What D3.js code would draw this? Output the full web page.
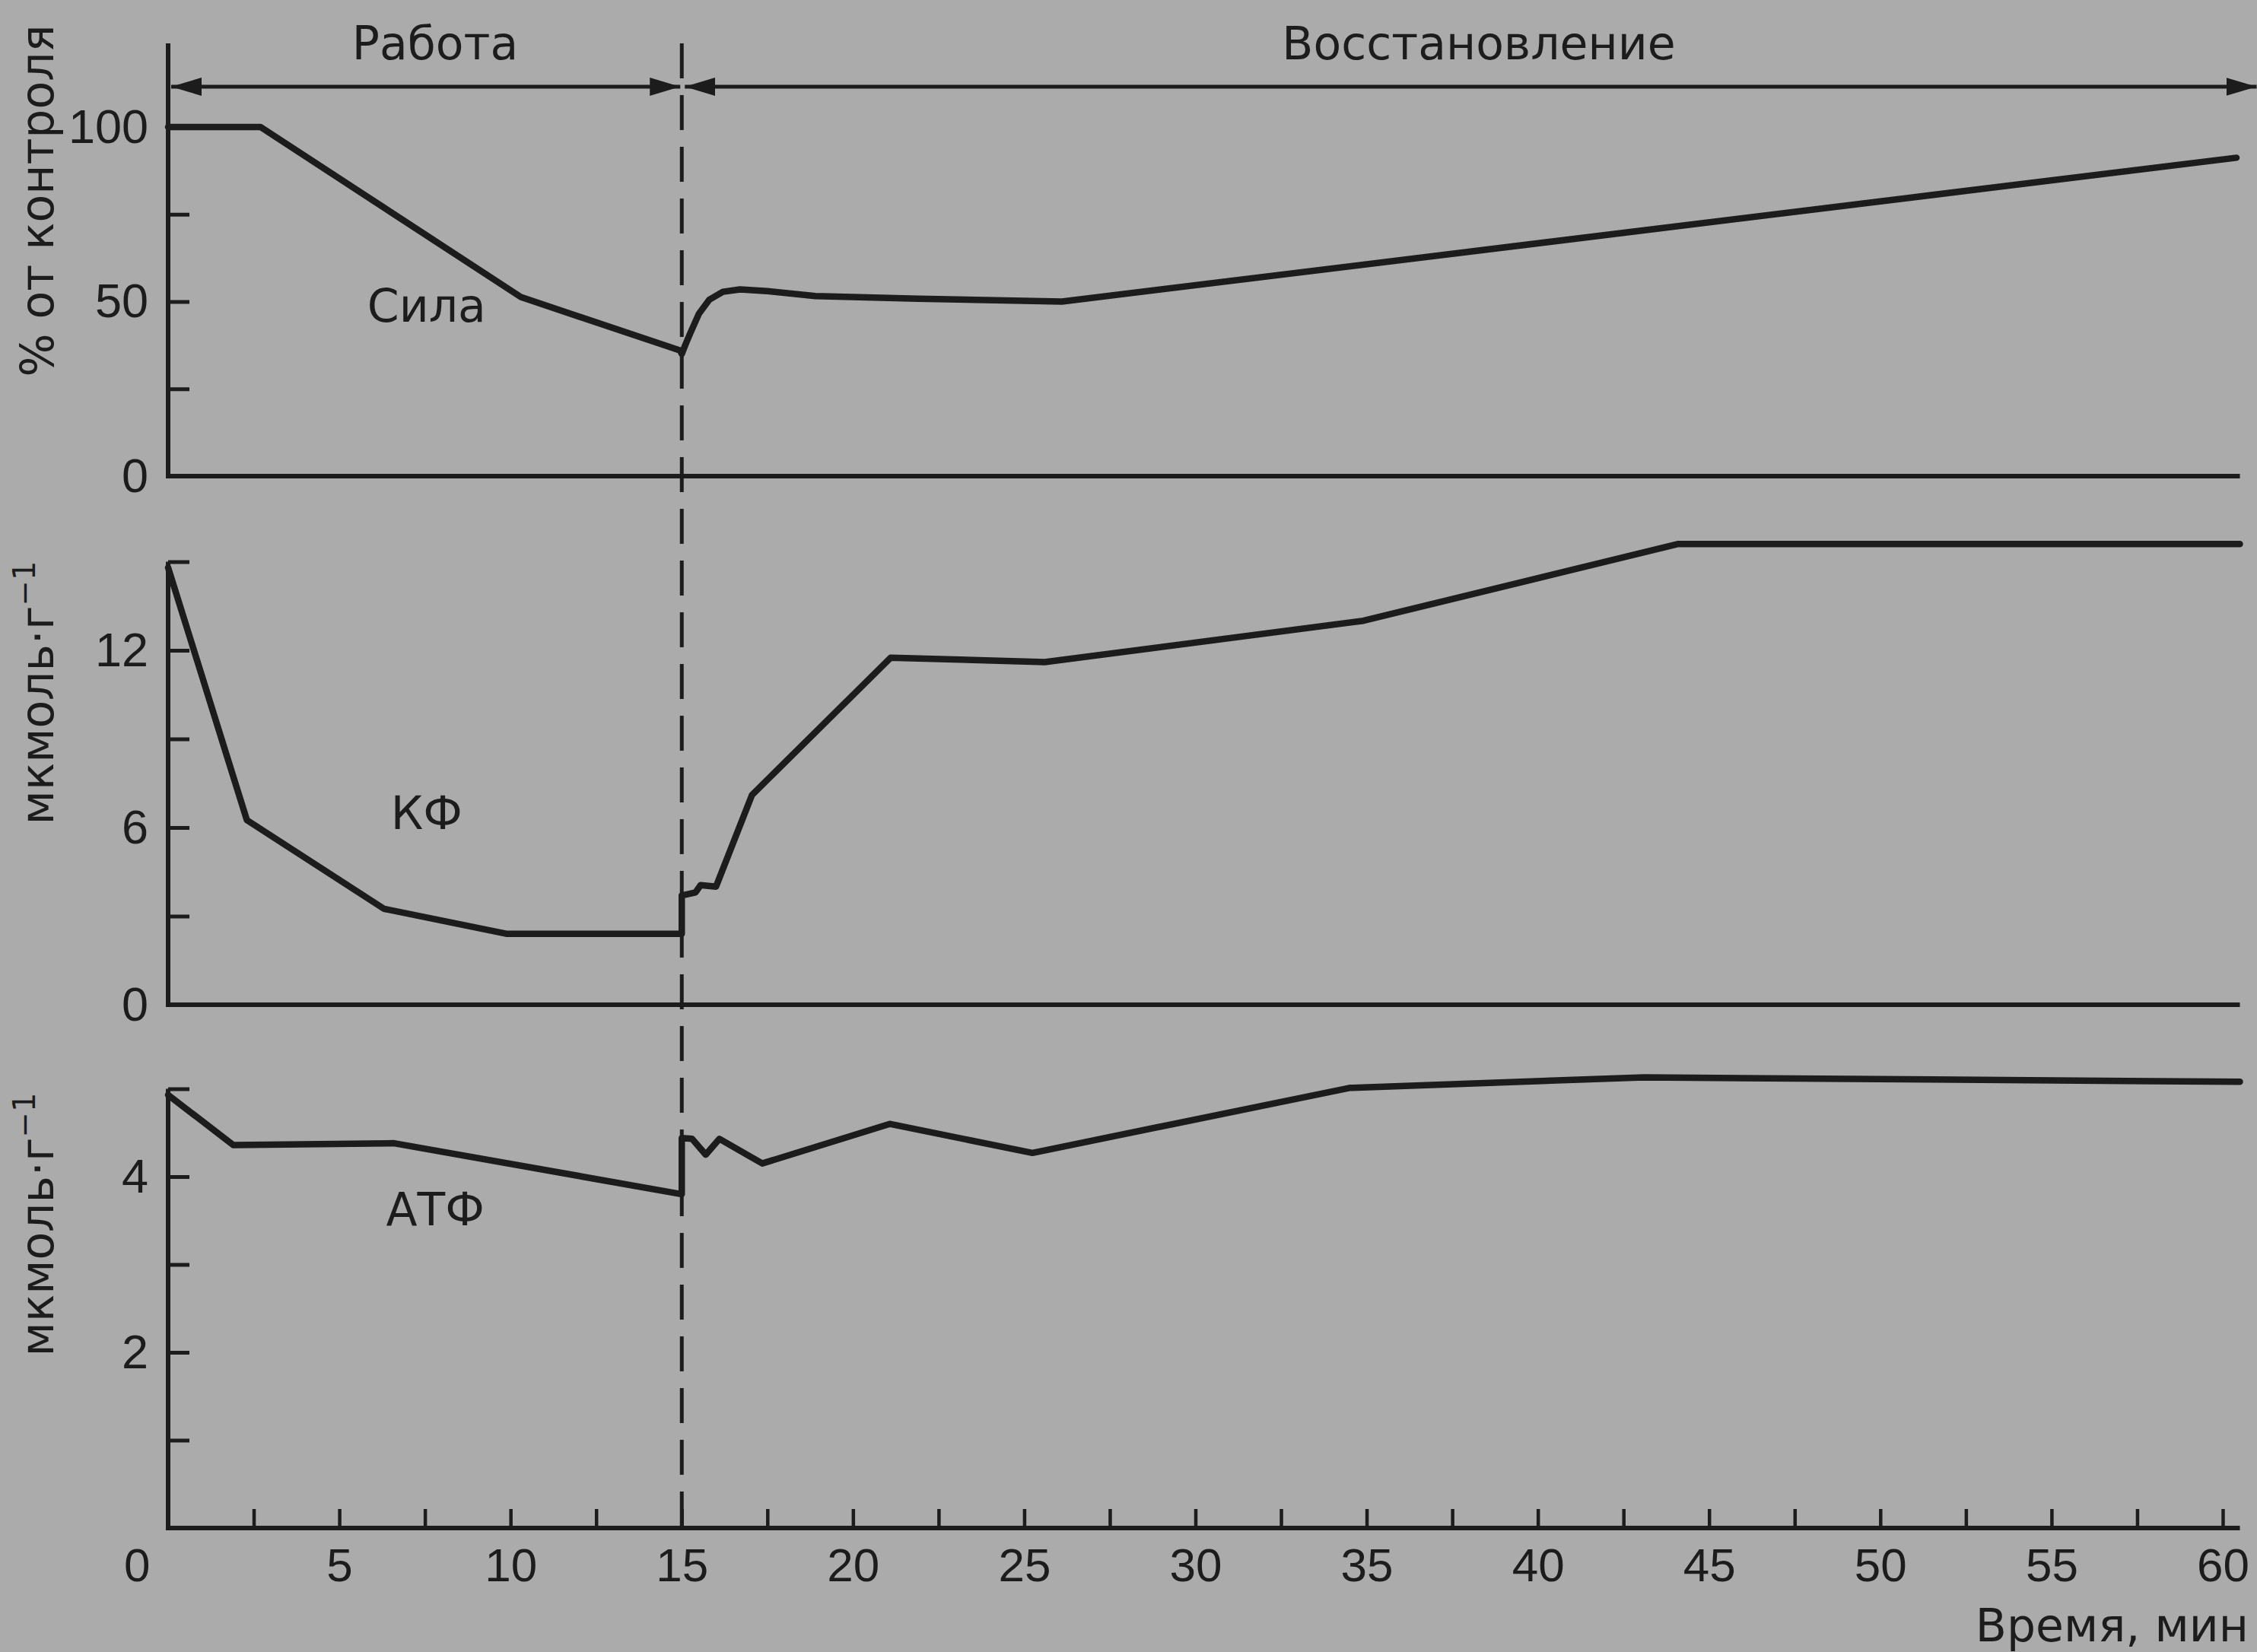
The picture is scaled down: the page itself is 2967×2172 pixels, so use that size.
<!DOCTYPE html>
<html>
<head>
<meta charset="utf-8">
<script src="https://cdnjs.cloudflare.com/ajax/libs/d3/7.8.5/d3.min.js"></script>
<style>
    body { margin: 0; background: #ababab; }
</style>
</head>
<body>
<div class="C"></div>
<script>
// Сила, % от контроля
var silaTime  = [0, 2.7, 10.3, 14.95, 15, 15.1, 15.25, 15.5, 15.8, 16.2, 16.7, 17.5, 18.9, 21.9, 26.1, 60.4];
var silaValue = [100, 100, 51.3, 36, 35, 37.5, 41, 46.5, 50.5, 52.8, 53.5, 53, 51.6, 50.8, 50, 91.2];

// КФ, мкмоль/г
var kfTime  = [0, 2.3, 6.3, 9.9, 15, 15, 15.4, 15.55, 16, 17.05, 21.1, 25.6, 34.9, 44.1, 60.5];
var kfValue = [14.8, 6.25, 3.25, 2.4, 2.4, 3.7, 3.8, 4.05, 4.0, 7.1, 11.75, 11.6, 13.0, 15.6, 15.6];

// АТФ, мкмоль/г
var atpTime  = [0, 1.9, 6.6, 15, 15, 15.3, 15.7, 16.1, 17.35, 21.07, 25.24, 34.5, 43.1, 60.5];
var atpValue = [4.93, 4.36, 4.38, 3.8, 4.44, 4.43, 4.25, 4.43, 4.15, 4.6, 4.27, 5.01, 5.13, 5.08];

var timeTicks  = d3.range(0, 60.1, 2.5);
var timeLabels = [0, 5, 10, 15, 20, 25, 30, 35, 40, 45, 50, 55, 60];
var silaTicks = [0, 25, 50, 75, 100], silaLabels = [0, 50, 100];
var kfTicks   = [0, 3, 6, 9, 12, 15],  kfLabels   = [0, 6, 12];
var atpTicks  = [1, 2, 3, 4, 5],       atpLabels  = [2, 4];

var phaseNames  = ['Работа', 'Восстановление'];
var phaseBounds = [[0, 15], [15, 60.5]];
var seriesNames = ['Сила', 'КФ', 'АТФ'];

var W = 2967, H = 2172;
var ink = '#1c1c1c';
var numFont = '"Liberation Sans", Arial, sans-serif';
var wordFont = '"DejaVu Sans", sans-serif';

var svg = d3.select('.C').append('svg').attr('width', W).attr('height', H);
svg.append('rect').attr('width', W).attr('height', H).attr('fill', '#ababab');

var x = d3.scaleLinear().domain([0, 60]).range([221, 2922]);
var ySila = d3.scaleLinear().domain([0, 100]).range([626, 167]);
var yKf = d3.scaleLinear().domain([0, 12]).range([1321, 855]);
var yAtp = d3.scaleLinear().domain([0, 4]).range([2009, 1547]);
var xEnd = x(60.5);
var topY = 57;

function yAxis(y, ticks, labels, top) {
    var g = svg.append('g').attr('transform', 'translate(' + x(0) + ',0)').attr('color', ink);
    g.call(d3.axisLeft(y).tickValues(ticks).tickSizeInner(-28).tickSizeOuter(0).tickPadding(26)
        .tickFormat(function (d) { return labels.indexOf(d) >= 0 ? d : ''; }));
    g.select('.domain').remove();
    g.selectAll('.tick line').attr('stroke-width', 5);
    g.selectAll('.tick text').attr('fill', ink).style('font-family', numFont).style('font-size', '63px');
    // vertical axis line
    g.append('line').attr('x1', 0).attr('x2', 0).attr('y1', y(0) + 3).attr('y2', top)
        .attr('stroke', ink).attr('stroke-width', 6);
    // baseline
    svg.append('line').attr('x1', x(0) - 3).attr('x2', xEnd).attr('y1', y(0)).attr('y2', y(0))
        .attr('stroke', ink).attr('stroke-width', 6);
}
yAxis(ySila, silaTicks, silaLabels, topY);
yAxis(yKf, kfTicks, kfLabels, yKf(15));
yAxis(yAtp, atpTicks, atpLabels, yAtp(5));

// time axis at the bottom
var gx = svg.append('g').attr('transform', 'translate(0,' + yAtp(0) + ')').attr('color', ink)
    .call(d3.axisBottom(x).tickValues(timeTicks).tickSizeInner(-25).tickSizeOuter(0).tickPadding(26)
        .tickFormat(function (d) { return timeLabels.indexOf(d) >= 0 ? d : ''; }));
gx.select('.domain').remove();
gx.selectAll('.tick line').attr('stroke-width', 4.5);
gx.selectAll('.tick text').attr('fill', ink).style('font-family', numFont).style('font-size', '62px');
gx.selectAll('.tick').filter(function (d) { return d === 0; }).select('text')
    .attr('text-anchor', 'end').attr('x', -24);

// dashed end-of-work line
svg.append('line').attr('x1', x(15)).attr('x2', x(15)).attr('y1', topY).attr('y2', yAtp(0))
    .attr('stroke', ink).attr('stroke-width', 5).attr('stroke-dasharray', '46 22');

// phase arrows
svg.append('defs').append('marker').attr('id', 'arr')
    .attr('viewBox', '0 0 40 24').attr('refX', 40).attr('refY', 12)
    .attr('markerWidth', 40).attr('markerHeight', 24).attr('markerUnits', 'userSpaceOnUse')
    .attr('orient', 'auto-start-reverse')
    .append('path').attr('d', 'M0,0L40,12L0,24Z').attr('fill', ink);

var arrowY = 114;
svg.selectAll('.phase').data(phaseBounds).enter().append('line')
    .attr('class', 'phase')
    .attr('x1', function (d) { return x(d[0]) + 4; })
    .attr('x2', function (d) { return x(d[1]) - (d[1] === 15 ? 2 : -22); })
    .attr('y1', arrowY).attr('y2', arrowY)
    .attr('stroke', ink).attr('stroke-width', 5)
    .attr('marker-start', 'url(#arr)').attr('marker-end', 'url(#arr)');

svg.selectAll('.phasetext').data(phaseNames).enter().append('text')
    .attr('class', 'phasetext')
    .attr('x', function (d, i) { return i === 0 ? 572 : 1944; })
    .attr('y', 78)
    .attr('text-anchor', 'middle')
    .style('font-family', wordFont).style('font-size', '60px').style('fill', ink)
    .text(function (d) { return d; });

// curves
var curves = [
    { t: silaTime, v: silaValue, y: ySila },
    { t: kfTime, v: kfValue, y: yKf },
    { t: atpTime, v: atpValue, y: yAtp }
];
curves.forEach(function (c) {
    var line = d3.line().x(function (d) { return x(d[0]); }).y(function (d) { return c.y(d[1]); });
    svg.append('path').datum(d3.zip(c.t, c.v)).attr('d', line)
        .attr('fill', 'none').attr('stroke', ink).attr('stroke-width', 8.5)
        .attr('stroke-linejoin', 'round').attr('stroke-linecap', 'round');
});

// series names
var namePos = [[7.55, ySila(44.2)], [7.55, yKf(5.95)], [7.8, yAtp(3.45)]];
svg.selectAll('.sname').data(seriesNames).enter().append('text')
    .attr('class', 'sname')
    .attr('x', function (d, i) { return x(namePos[i][0]); })
    .attr('y', function (d, i) { return namePos[i][1]; })
    .attr('text-anchor', 'middle')
    .style('font-family', wordFont).style('font-size', '60px').style('fill', ink)
    .text(function (d) { return d; });

// y titles
function yTitle(cy, main, sup) {
    var t = svg.append('text').attr('transform', 'translate(70,' + cy + ') rotate(-90)')
        .attr('text-anchor', 'middle')
        .style('font-family', wordFont).style('font-size', '60px').style('fill', ink);
    t.append('tspan').text(main);
    if (sup) {
        t.append('tspan').attr('dy', -24).style('font-size', '40px').text(sup);
    }
}
yTitle(264, '% от контроля');
yTitle(911, 'мкмоль·г', '−1');
yTitle(1610, 'мкмоль·г', '−1');

svg.append('text').attr('x', 2956).attr('y', 2158).attr('text-anchor', 'end')
    .style('font-family', wordFont).style('font-size', '60px').style('fill', ink)
    .text('Время, мин');
</script>
</body>
</html>
